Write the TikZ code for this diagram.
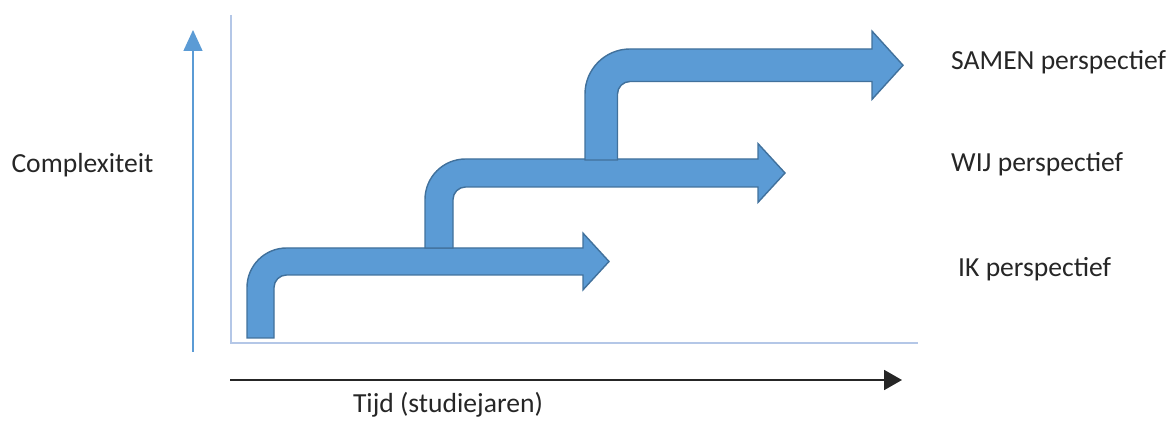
\documentclass[tikz,border=0pt]{standalone}
\usepackage{fontspec}
\setmainfont{Carlito}
\usetikzlibrary{arrows.meta, positioning, calc}
\definecolor{stepc}{HTML}{5B9BD5}
\definecolor{stepd}{HTML}{41719C}
\definecolor{axisc}{HTML}{B4C7E7}
\definecolor{textc}{HTML}{262626}
\newcommand{\stepup}[6]{%
  % #1 left x, #2 bottom y, #3 top of shaft, #4 width, #5 head base, #6 tip
  \pgfmathsetmacro{\rin}{0.25}
  \pgfmathsetmacro{\rout}{#4+\rin}
  \filldraw[fill=stepc, draw=stepd, line width=0.8pt, line join=miter]
    (#1,#2) -- ({#1+#4},#2) -- ({#1+#4},{#3-#4-\rin})
    arc[start angle=180, end angle=90, radius=\rin]
    -- (#5,{#3-#4}) -- (#5,{#3-1.55*#4}) -- (#6,{#3-0.5*#4})
    -- (#5,{#3+0.55*#4}) -- (#5,#3) -- ({#1+#4+\rin},#3)
    arc[start angle=90, end angle=180, radius=\rout] -- cycle;
}

\begin{document}
\begin{tikzpicture}[>=Stealth, font=\fontsize{15.7}{19}\selectfont,
          text=textc]
        \useasboundingbox (0,0) rectangle (23.5,8.4);
        % axes
        \coordinate (o) at (4.62,1.54);
        \coordinate (ytop) at (4.62,8.1);
        \coordinate (xend) at (18.36,1.54);
        \draw[axisc, line width=0.6pt] (ytop) -- (o) -- (xend);
        \coordinate (cbot) at (3.86,1.36);
        \coordinate (ctop) at (3.86,7.8);
        \draw[-{Triangle[width=0.38cm, length=0.42cm]}, stepc,
          line width=0.8pt] (cbot) -- (ctop);
        \coordinate (tstart) at (4.6,0.8);
        \coordinate (tend) at (18.04,0.8);
        \draw[-{Triangle[width=0.4cm, length=0.36cm]}, black!85,
          line width=1.1pt] (tstart) -- (tend);
        \node (cplx) at (1.65,5.1) {Complexiteit};
        \node[inner sep=1pt] (tijd) at (8.96,0.3) {Tijd (studiejaren)};
        % steps
        \foreach \xl/\yb/\yt/\w/\hb/\tip in {4.94/1.64/3.44/0.54/11.66/12.18,
            8.50/3.44/5.22/0.56/15.16/15.70,
            11.70/5.20/7.42/0.65/17.44/18.06}{
          \stepup{\xl}{\yb}{\yt}{\w}{\hb}{\tip}
        }
        \node[anchor=base west] (samen) at (18.9,7.0) {SAMEN perspectief};
        \node[anchor=base west] (wij) at (18.9,4.96) {WIJ perspectief};
        \node[anchor=base west] (ik) at (19.04,2.86) {IK perspectief};
      \end{tikzpicture}
\end{document}
